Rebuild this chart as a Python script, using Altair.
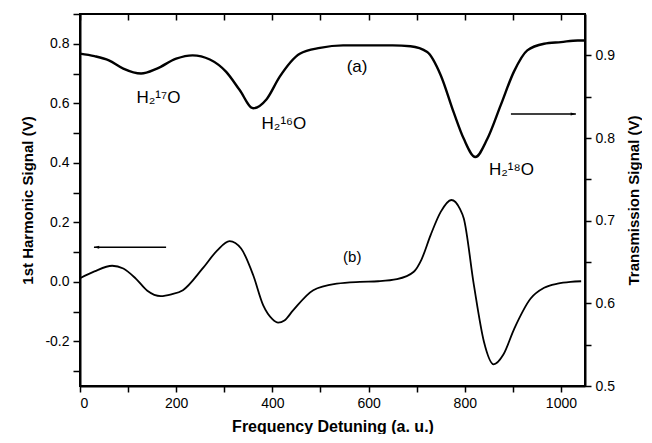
import altair as alt
import pandas as pd

# Transmission signal (a), right axis
trans_x = [0, 30, 60, 90, 127, 160, 200, 234, 270, 304, 332, 360, 388, 415, 457, 499,
           547, 600, 650, 687, 722, 750, 777, 798, 822, 847, 875, 902, 930, 965, 1000, 1035, 1050]
trans_v = [0.902, 0.899, 0.894, 0.884, 0.878, 0.884, 0.896, 0.900, 0.895, 0.880, 0.858,
           0.836, 0.847, 0.874, 0.902, 0.909, 0.912, 0.912, 0.912, 0.911, 0.904, 0.876,
           0.831, 0.799, 0.777, 0.799, 0.840, 0.880, 0.906, 0.914, 0.916, 0.918, 0.918]

# 1st harmonic signal (b), left axis
harm_x = [0, 30, 67, 90, 116, 140, 168, 190, 214, 255, 285, 311, 335, 360, 381, 400, 412,
          425, 443, 485, 534, 582, 620, 659, 694, 710, 729, 750, 772, 790, 798, 819, 840,
          860, 880, 903, 937, 965, 993, 1020, 1042]
harm_v = [0.012, 0.035, 0.054, 0.045, 0.011, -0.030, -0.048, -0.042, -0.028, 0.045, 0.105,
          0.137, 0.112, 0.023, -0.079, -0.125, -0.137, -0.130, -0.096, -0.028, -0.006, 0.000,
          0.002, 0.009, 0.034, 0.075, 0.157, 0.235, 0.275, 0.245, 0.213, -0.011, -0.202,
          -0.277, -0.245, -0.157, -0.056, -0.020, -0.006, 0.000, 0.002]

# annotations on transmission scale
a_text = ["(a)", "H\u2082\u00b9\u2077O", "H\u2082\u00b9\u2076O", "H\u2082\u00b9\u2078O"]
a_x = [576, 163, 424, 897]
a_y = [0.886, 0.848, 0.817, 0.761]
# annotations on harmonic scale
b_text = ["(b)"]
b_x = [566]
b_y = [0.084]

# arrows (tail, head)
arrow_r_tail, arrow_r_head, arrow_r_y = 896, 1031, 0.829
arrow_l_tail, arrow_l_head, arrow_l_y = 179, 29, 0.116

X_DOM = [0, 1050]
L_DOM = [-0.35, 0.9]
R_DOM = [0.5, 0.95]
FONT = "Liberation Sans"

df_a = pd.DataFrame({"x": trans_x, "y": trans_v})
df_b = pd.DataFrame({"x": harm_x, "y": harm_v})
df_at = pd.DataFrame({"x": a_x, "y": a_y, "t": a_text})
df_bt = pd.DataFrame({"x": b_x, "y": b_y, "t": b_text})
df_ar = pd.DataFrame({"x": [arrow_r_head], "x2": [arrow_r_tail], "y": [arrow_r_y]})
df_al = pd.DataFrame({"x": [arrow_l_head], "x2": [arrow_l_tail], "y": [arrow_l_y]})

xs = alt.Scale(domain=X_DOM, nice=False, zero=False)
x_bottom = alt.X("x:Q", scale=xs,
                 axis=alt.Axis(orient="bottom", title="Frequency Detuning (a. u.)",
                               values=list(range(0, 1001, 100)),
                               labelExpr="datum.value % 200 == 0 ? datum.value : ''",
                               tickSize=6, labelPadding=4, titlePadding=8, titleFontSize=16))
x_top = alt.X("x:Q", scale=xs,
              axis=alt.Axis(orient="top", title=None, labels=False, domain=False,
                            values=list(range(0, 1001, 100)), tickSize=6, offset=-6))

y_left = alt.Y("y:Q", scale=alt.Scale(domain=L_DOM, nice=False, zero=False),
               axis=alt.Axis(orient="left", title="1st Harmonic Signal (V)",
                             values=[round(-0.3 + 0.1 * i, 1) for i in range(13)],
                             labelExpr="round(datum.value*10) % 2 == 0 ? replace(format(datum.value, '.1f'), '\u2212', '-') : ''",
                             tickSize=7, labelPadding=4, titlePadding=9))
y_right = alt.Y("y:Q", scale=alt.Scale(domain=R_DOM, nice=False, zero=False),
                axis=alt.Axis(orient="right", title="Transmission Signal (V)",
                              values=[round(0.5 + 0.05 * i, 2) for i in range(9)],
                              labelExpr="round(datum.value*100) % 10 == 0 ? format(datum.value, '.1f') : ''",
                              tickSize=6, labelPadding=4, titlePadding=12, titleAngle=270,
                              titleBaseline="top"))

line_b = alt.Chart(df_b).mark_line(color="black", strokeWidth=1.8, interpolate="monotone").encode(
    x=x_bottom, y=y_left)
text_b = alt.Chart(df_bt).mark_text(font=FONT, fontSize=15, color="black").encode(
    x=x_bottom, y=y_left, text="t:N")
rule_l = alt.Chart(df_al).mark_rule(color="black", strokeWidth=1.5).encode(
    x=x_bottom, x2="x2:Q", y=y_left)
head_l = alt.Chart(df_al).mark_point(shape="M0,0 L1,-0.28 L1,0.28 Z", size=110, filled=True,
                                     color="black", opacity=1).encode(x=x_bottom, y=y_left)
group_b = alt.layer(line_b, text_b, rule_l, head_l)

line_a = alt.Chart(df_a).mark_line(color="black", strokeWidth=2.4, interpolate="monotone").encode(
    x=x_top, y=y_right)
text_a = alt.Chart(df_at).mark_text(font=FONT, fontSize=17, color="black").encode(
    x=x_top, y=y_right, text="t:N")
rule_r = alt.Chart(df_ar).mark_rule(color="black", strokeWidth=1.5).encode(
    x=x_top, x2="x2:Q", y=y_right)
head_r = alt.Chart(df_ar).mark_point(shape="M0,0 L-1,-0.28 L-1,0.28 Z", size=110, filled=True,
                                     color="black", opacity=1).encode(x=x_top, y=y_right)
group_a = alt.layer(line_a, text_a, rule_r, head_r)

chart = alt.layer(group_b, group_a).resolve_scale(
    x="independent", y="independent"
).properties(
    width=634, height=426, padding={"left": 12, "top": 5, "right": 0, "bottom": 0},
    autosize=alt.AutoSizeParams(type="fit", contains="padding")
).configure_view(
    stroke="black", strokeWidth=2
).configure_axis(
    grid=False, domainColor="black", domainWidth=2, tickColor="black", tickWidth=1.5,
    labelFont=FONT, labelFontSize=14, labelColor="black",
    titleFont=FONT, titleFontSize=15, titleFontWeight="bold", titleColor="black"
)

chart.save("out.html", embed_options={"renderer": "svg", "actions": False})
